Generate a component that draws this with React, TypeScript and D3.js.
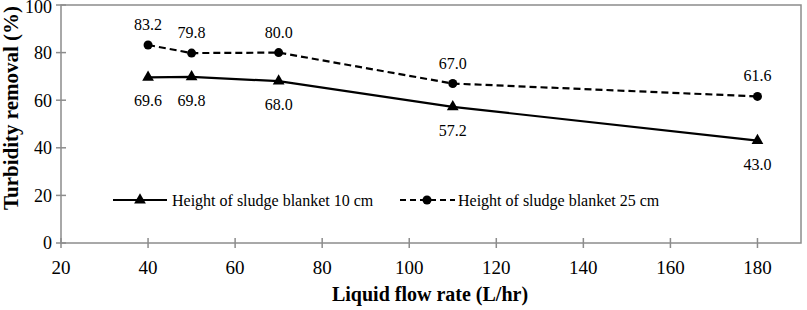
import React, { useEffect, useRef } from 'react';
import * as d3 from 'd3';

// flow rates (L/hr)
const flowRates = [40, 50, 70, 110, 180];
// turbidity removal (%) for each sludge blanket height
const removal10cm = [69.6, 69.8, 68.0, 57.2, 43.0];
const removal25cm = [83.2, 79.8, 80.0, 67.0, 61.6];
const seriesNames = ['Height of sludge blanket 10 cm', 'Height of sludge blanket 25 cm'];
const xTicks = [20, 40, 60, 80, 100, 120, 140, 160, 180];
const yTicks = [0, 20, 40, 60, 80, 100];

const W = 807;
const H = 310;
const FONT = 'Liberation Serif, Times New Roman, DejaVu Serif, serif';
const AXIS_COLOR = '#8c8c8c';

const App = () => {
  const ref = useRef<SVGSVGElement>(null);

  useEffect(() => {
    const svg = d3.select(ref.current);
    svg.selectAll('*').remove();
    svg.attr('font-family', FONT);

    const x = d3.scaleLinear().domain([20, 190]).range([61, 801]);
    const y = d3.scaleLinear().domain([0, 100]).range([243, 5]);

    // plot frame (left axis, bottom axis, top + right border)
    svg.append('rect')
      .attr('x', x(20)).attr('y', y(100))
      .attr('width', x(190) - x(20)).attr('height', y(0) - y(100))
      .attr('fill', 'none').attr('stroke', AXIS_COLOR).attr('stroke-width', 1.5);

    // y ticks
    const yAxis = svg.append('g');
    yTicks.forEach(t => {
      yAxis.append('line')
        .attr('x1', x(20) - 5).attr('x2', x(20) + 5)
        .attr('y1', y(t)).attr('y2', y(t))
        .attr('stroke', AXIS_COLOR).attr('stroke-width', 1.5);
      yAxis.append('text')
        .attr('x', 52).attr('y', Math.max(y(t), 7))
        .attr('dy', '0.35em')
        .attr('text-anchor', 'end')
        .attr('font-size', 18)
        .text(t);
    });

    // x ticks
    const xAxis = svg.append('g');
    xTicks.forEach(t => {
      xAxis.append('line')
        .attr('x1', x(t)).attr('x2', x(t))
        .attr('y1', y(0) - 5).attr('y2', y(0) + 5)
        .attr('stroke', AXIS_COLOR).attr('stroke-width', 1.5);
      xAxis.append('text')
        .attr('x', x(t)).attr('y', 274)
        .attr('text-anchor', 'middle')
        .attr('font-size', 19)
        .text(t);
    });

    // axis titles
    svg.append('text')
      .attr('x', 430).attr('y', 301)
      .attr('text-anchor', 'middle')
      .attr('font-size', 20).attr('font-weight', 'bold')
      .text('Liquid flow rate (L/hr)');

    svg.append('text')
      .attr('transform', 'translate(18,108) rotate(-90)')
      .attr('text-anchor', 'middle')
      .attr('font-size', 21).attr('font-weight', 'bold')
      .text('Turbidity removal (%)');

    const line = d3.line<[number, number]>()
      .x(d => x(d[0]))
      .y(d => y(d[1]));

    const tri = d3.symbol().type(d3.symbolTriangle).size(60);

    const data10 = flowRates.map((f, i) => [f, removal10cm[i]] as [number, number]);
    const data25 = flowRates.map((f, i) => [f, removal25cm[i]] as [number, number]);

    // 25 cm series (dashed, circles)
    svg.append('path')
      .datum(data25)
      .attr('d', line)
      .attr('fill', 'none').attr('stroke', '#000')
      .attr('stroke-width', 2.2).attr('stroke-dasharray', '7,4');
    svg.selectAll('.c25').data(data25).join('circle')
      .attr('cx', d => x(d[0])).attr('cy', d => y(d[1]))
      .attr('r', 4.5).attr('fill', '#000');
    svg.selectAll('.l25').data(data25).join('text')
      .attr('x', d => x(d[0])).attr('y', d => y(d[1]) - 15)
      .attr('text-anchor', 'middle')
      .attr('font-size', 16)
      .text(d => d[1].toFixed(1));

    // 10 cm series (solid, triangles)
    svg.append('path')
      .datum(data10)
      .attr('d', line)
      .attr('fill', 'none').attr('stroke', '#000').attr('stroke-width', 2.2);
    svg.selectAll('.t10').data(data10).join('path')
      .attr('d', tri)
      .attr('transform', d => `translate(${x(d[0])},${y(d[1])})`)
      .attr('fill', '#000');
    svg.selectAll('.l10').data(data10).join('text')
      .attr('x', d => x(d[0])).attr('y', d => y(d[1]) + 29)
      .attr('text-anchor', 'middle')
      .attr('font-size', 16)
      .text(d => d[1].toFixed(1));

    // legend
    const lg = svg.append('g').attr('transform', 'translate(0,200)');
    lg.append('line').attr('x1', 113).attr('x2', 167).attr('y1', 0).attr('y2', 0)
      .attr('stroke', '#000').attr('stroke-width', 2.2);
    lg.append('path').attr('d', tri).attr('transform', 'translate(140,0)').attr('fill', '#000');
    lg.append('text').attr('x', 172).attr('y', 0).attr('dy', '0.35em')
      .attr('font-size', 16).text(seriesNames[0]);

    lg.append('line').attr('x1', 400).attr('x2', 455).attr('y1', 0).attr('y2', 0)
      .attr('stroke', '#000').attr('stroke-width', 2.2).attr('stroke-dasharray', '6,4');
    lg.append('circle').attr('cx', 427).attr('cy', 0).attr('r', 4.5).attr('fill', '#000');
    lg.append('text').attr('x', 458).attr('y', 0).attr('dy', '0.35em')
      .attr('font-size', 16).text(seriesNames[1]);
  }, []);

  return (
    <svg
      ref={ref}
      width={W}
      height={H}
      style={{ position: 'absolute', left: 0, top: 0, background: '#fff' }}
    />
  );
};

export default App;
